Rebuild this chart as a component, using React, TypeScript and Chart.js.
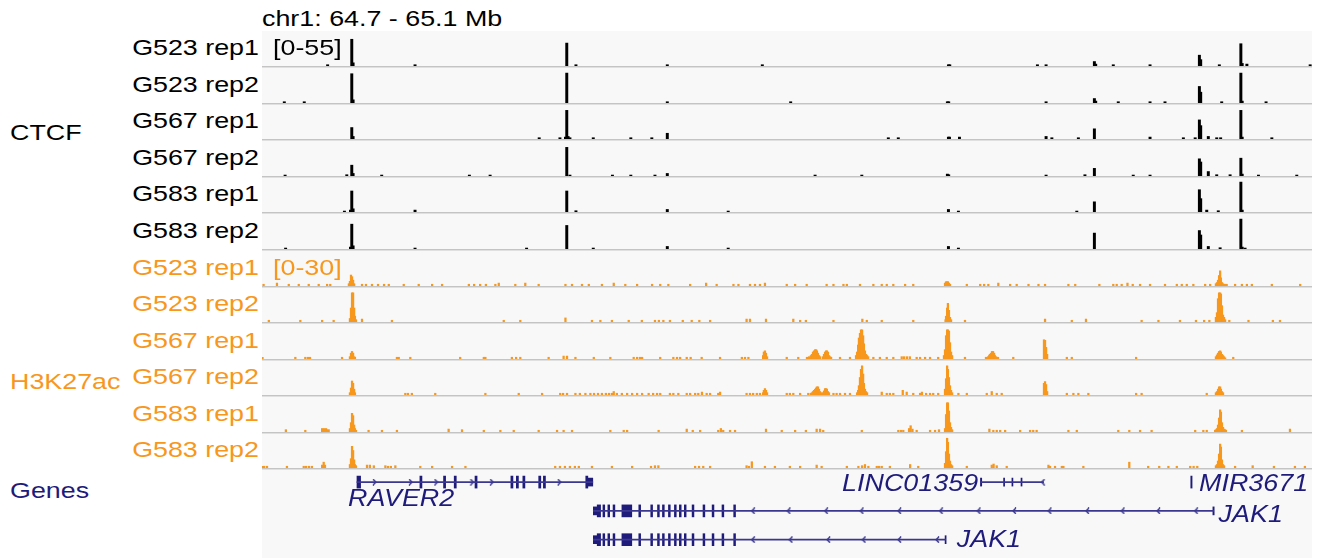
import React, { useEffect, useRef } from 'react';
import { Chart, registerables } from 'chart.js';

Chart.register(...registerables);

// Genomic window: chr1 64,700 kb - 65,100 kb. Positions below are kb offsets from 64,700 kb.
const VIEW_START = 0;
const VIEW_END = 400;
const CTCF_RANGE = 55;
const H3K27AC_RANGE = 30;

const sampleNames = ['G523 rep1', 'G523 rep2', 'G567 rep1', 'G567 rep2', 'G583 rep1', 'G583 rep2'];

// ---------- CTCF signal: [position kb, value] ----------
const ctcf_G523_rep1: [number, number][] = [
  [25.0, 2], [34.2, 42], [34.7, 5], [58.3, 2], [116.1, 36], [119.6, 2], [154.4, 2], [190.6, 2],
  [261.5, 2], [262.0, 2], [295.4, 2], [298.7, 2], [317.1, 7], [317.6, 3], [324.3, 2], [338.3, 2],
  [357.1, 17], [357.6, 10], [364.7, 2], [372.9, 35], [373.4, 4], [375.2, 3], [399.3, 2],
];
const ctcf_G523_rep2: [number, number][] = [
  [8.5, 2], [16.1, 2], [34.2, 46], [34.7, 5], [116.1, 47], [154.4, 2], [201.4, 2], [261.1, 2],
  [261.6, 2], [298.7, 2], [317.1, 7], [317.6, 3], [326.2, 2], [338.3, 2], [344.0, 2], [357.1, 26],
  [357.6, 17], [365.6, 2], [372.9, 47], [373.4, 3], [382.5, 2],
];
const ctcf_G567_rep1: [number, number][] = [
  [34.2, 18], [34.7, 4], [105.6, 2], [113.5, 2], [115.6, 3], [116.1, 45], [116.6, 4], [117.3, 2],
  [126.2, 2], [140.5, 2], [148.5, 2], [154.4, 9], [238.6, 2], [242.4, 2], [261.5, 3], [261.9, 3],
  [265.7, 3], [298.7, 4], [300.9, 2], [311.0, 2], [317.1, 16], [338.3, 3], [351.0, 2], [355.5, 2],
  [357.1, 30], [357.6, 21], [360.5, 4], [363.7, 2], [365.2, 2], [372.9, 45], [373.4, 3], [384.7, 2],
];
const ctcf_G567_rep2: [number, number][] = [
  [8.8, 1.5], [32.3, 2], [34.2, 17], [34.7, 4], [45.6, 1.5], [79.0, 1.5], [86.9, 1.5], [116.1, 45],
  [117.3, 1.5], [133.5, 1.5], [140.5, 1.5], [149.7, 1.5], [154.4, 4], [210.7, 1.5], [228.5, 1.5],
  [261.1, 3], [261.6, 2], [298.7, 1.5], [313.5, 2], [317.1, 12], [331.9, 1.5], [338.3, 1.5],
  [357.1, 27], [357.6, 22], [360.5, 7], [363.7, 2], [368.8, 2], [372.9, 28], [373.4, 3], [379.6, 1.5],
  [394.2, 1.5],
];
const ctcf_G583_rep1: [number, number][] = [
  [31.4, 1.5], [33.7, 3], [34.2, 33], [34.7, 5], [58.3, 3], [116.1, 33], [119.6, 2], [154.4, 4],
  [177.6, 1.5], [261.5, 4], [265.3, 1.5], [310.4, 1.5], [317.1, 16], [357.1, 35], [357.6, 21],
  [359.9, 3], [364.3, 2], [372.9, 47], [373.4, 3],
];
const ctcf_G583_rep2: [number, number][] = [
  [9.0, 1.5], [33.7, 3], [34.2, 39], [34.7, 5], [58.3, 1.5], [100.8, 1.5], [116.1, 37], [126.2, 1.5],
  [154.4, 4], [177.6, 1.5], [261.5, 4], [265.3, 1.5], [317.1, 25], [357.1, 29], [357.6, 22],
  [360.5, 4], [365.0, 2], [372.9, 47], [373.4, 3], [374.5, 1.5],
];

// ---------- H3K27ac signal: [position kb, value] ----------
const h3_G523_rep1_peaks: [number, number][] = [
  [33.1, 2], [33.5, 4], [33.9, 9.4], [34.3, 8], [34.7, 5], [35.1, 2],
  [260.2, 2.5], [260.6, 3.7], [261.0, 3.7], [261.3, 3.7], [261.7, 2.5], [262.1, 1.5],
  [363.4, 2], [363.8, 3], [364.2, 5], [364.6, 9], [365.0, 13], [365.3, 7], [365.7, 3], [366.1, 2], [366.9, 1.5],
];
const h3_G523_rep1_bg: [number, number][] = [
  [0.6, 1.5], [5.7, 2.5], [10.2, 1.5], [14.0, 1.5], [17.8, 1.5], [21.6, 1.5], [24.8, 1.5], [26.0, 1.5],
  [38.1, 1.5], [39.6, 1.5], [41.9, 1.5], [44.2, 1.5], [46.5, 1.5], [48.3, 1.5], [54.0, 1.5], [59.7, 1.5],
  [64.8, 1.5], [68.6, 1.5], [78.8, 1.5], [80.8, 1.5], [83.1, 1.5], [85.3, 1.5], [88.9, 1.5], [90.2, 2.5],
  [96.5, 1.5], [100.3, 2.5], [105.4, 1.5], [115.6, 1.5], [118.1, 1.5], [121.9, 1.5], [124.5, 1.5],
  [129.5, 1.5], [134.0, 2.5], [138.4, 1.5], [142.9, 1.5], [148.6, 1.5], [151.7, 1.5], [154.8, 1.5],
  [163.1, 1.5], [169.2, 2.5], [173.2, 1.5], [179.6, 1.5], [181.5, 1.5], [185.9, 1.5], [187.8, 1.5],
  [189.7, 1.5], [191.6, 2.5], [199.9, 1.5], [203.1, 1.5], [207.5, 1.5], [215.1, 1.5], [217.7, 1.5],
  [221.5, 1.5], [222.8, 1.5], [227.8, 1.5], [232.9, 1.5], [236.1, 1.5], [238.0, 1.5], [240.5, 1.5],
  [245.0, 1.5], [248.1, 1.5], [268.5, 1.5], [273.6, 1.5], [275.1, 1.5], [276.7, 1.5], [280.5, 2.5],
  [285.0, 1.5], [287.5, 1.5], [292.0, 1.5], [295.8, 1.5], [298.3, 1.5], [307.2, 1.5], [309.8, 1.5],
  [319.0, 1.5], [324.3, 1.5], [325.6, 1.5], [327.5, 1.5], [329.7, 2.5], [331.7, 1.5], [334.5, 1.5],
  [338.3, 1.5], [344.0, 1.5], [348.5, 1.5], [350.4, 1.5], [352.3, 1.5], [354.8, 1.5], [359.3, 1.5],
  [361.2, 1.5], [367.5, 1.5], [370.7, 1.5], [373.3, 1.5], [375.2, 1.5], [377.1, 1.5], [384.7, 1.5],
  [395.5, 1.5],
];

const h3_G523_rep2_peaks: [number, number][] = [
  [33.5, 3], [33.9, 12], [34.3, 25], [34.7, 25], [35.1, 12], [35.4, 5], [35.8, 2], [38.1, 2.5],
  [260.4, 2], [260.6, 5], [261.0, 12], [261.3, 16], [261.7, 10], [262.1, 4], [262.5, 2],
  [363.4, 4], [363.8, 8], [364.2, 20], [364.6, 25], [365.0, 25], [365.3, 24], [365.7, 14], [366.1, 6],
  [366.5, 4], [366.9, 2],
];
const h3_G523_rep2_bg: [number, number][] = [
  [2.6, 1.5], [14.6, 1.5], [22.9, 1.5], [27.3, 1.5], [49.5, 1.5], [92.1, 1.5], [98.4, 1.5], [115.6, 3.5],
  [125.7, 1.5], [128.9, 1.5], [133.3, 1.5], [139.7, 1.5], [144.7, 1.5], [149.7, 1.5], [151.2, 1.5],
  [152.9, 1.5], [155.4, 1.5], [160.3, 1.5], [163.7, 1.5], [166.6, 1.5], [170.7, 1.5], [184.6, 2.5],
  [185.9, 2.5], [192.0, 2.5], [202.4, 2.5], [205.0, 1.5], [207.2, 1.5], [217.7, 1.5], [228.7, 2.5],
  [230.4, 1.5], [236.1, 1.5], [248.1, 1.5], [267.8, 1.5], [298.3, 2.5], [308.5, 1.5], [313.9, 2.5],
  [335.1, 1.5], [341.5, 1.5], [349.7, 1.5], [355.8, 1.5], [358.9, 1.5], [360.9, 1.5], [368.5, 1.5],
  [375.8, 1.5], [385.1, 1.5], [387.8, 1.5],
];

const h3_G567_rep1_peaks: [number, number][] = [
  [33.5, 2], [33.9, 5], [34.3, 6.5], [34.7, 5], [35.1, 2], [35.4, 1.5],
  [190.9, 3], [191.2, 6], [191.6, 7], [192.0, 5], [192.4, 2],
  [207.6, 1.5], [208.4, 2], [209.1, 3], [209.5, 4], [209.9, 6], [210.3, 7], [210.7, 8], [211.1, 8],
  [211.4, 7], [211.8, 5], [212.2, 3], [212.6, 2],
  [213.7, 2], [214.1, 4], [214.5, 6], [214.9, 7], [215.2, 7], [215.6, 6], [216.0, 3], [216.4, 2], [216.8, 1.5],
  [226.3, 3], [226.7, 6], [227.1, 12], [227.4, 18], [227.8, 22], [228.2, 25], [228.6, 25], [229.0, 20],
  [229.3, 13], [229.7, 7], [230.1, 4], [230.5, 3], [230.9, 2],
  [259.8, 3], [260.2, 8], [260.6, 20], [261.0, 25], [261.3, 25], [261.7, 24], [262.1, 14], [262.5, 6], [262.9, 3],
  [275.8, 1.5], [276.6, 2], [277.0, 3], [277.3, 4], [277.7, 5], [278.1, 6.5], [278.5, 6.5], [278.9, 5],
  [279.2, 3], [279.6, 2], [280.4, 1.5],
  [297.9, 16.5], [298.3, 16], [298.7, 10], [299.1, 4],
  [363.4, 2], [363.8, 3.5], [364.2, 5], [364.6, 6.5], [365.0, 7], [365.3, 6], [365.7, 4], [366.1, 3],
  [366.5, 2], [366.9, 1],
];
const h3_G567_rep1_bg: [number, number][] = [
  [0.2, 1.5], [12.7, 1.5], [16.5, 1.5], [17.5, 1.5], [18.3, 1.5], [30.5, 1.5], [51.4, 1.5], [52.1, 1.5],
  [56.5, 1.5], [75.5, 1.5], [84.5, 1.5], [85.1, 1.5], [95.2, 1.5], [96.8, 1.5], [98.4, 1.5], [109.2, 1.5],
  [114.9, 2.5], [116.2, 2.5], [119.4, 1.5], [126.4, 1.5], [132.7, 1.5], [141.6, 1.5], [142.9, 1.5],
  [144.0, 1.5], [144.8, 1.5], [151.7, 1.5], [156.7, 1.5], [158.1, 1.5], [159.3, 1.5], [161.8, 1.5],
  [163.3, 1.5], [167.5, 1.5], [174.5, 1.5], [182.8, 1.5], [184.0, 1.5], [185.3, 1.5], [199.9, 1.5],
  [204.3, 1.5], [220.2, 1.5], [224.0, 1.5], [232.9, 1.5], [235.4, 1.5], [238.0, 1.5], [240.5, 1.5],
  [243.7, 2], [244.6, 2], [245.7, 2], [246.8, 2], [249.4, 1.5], [250.7, 1.5], [252.6, 1.5], [254.5, 1.5],
  [257.6, 1.5], [267.8, 1.5], [286.2, 1.5], [306.6, 1.5], [308.5, 1.5], [333.0, 1.5], [370.0, 1.5],
];

const h3_G567_rep2_peaks: [number, number][] = [
  [33.5, 2], [33.9, 6], [34.3, 12], [34.7, 10], [35.1, 5], [35.4, 2],
  [190.9, 2], [191.2, 4], [191.6, 5.5], [192.0, 4], [192.4, 2],
  [209.1, 1.5], [209.5, 2], [209.9, 3], [210.3, 4], [210.7, 5], [211.1, 6], [211.4, 7], [211.8, 7],
  [212.2, 5], [212.6, 3], [213.0, 2],
  [213.7, 2], [214.1, 3.5], [214.5, 5.5], [214.9, 5.5], [215.2, 5], [215.6, 3], [216.0, 2],
  [226.7, 2], [227.1, 4], [227.4, 8], [227.8, 15], [228.2, 22], [228.6, 25], [229.0, 18], [229.3, 10],
  [229.7, 5], [230.1, 3], [230.5, 2],
  [260.2, 5], [260.6, 14], [261.0, 25], [261.3, 22], [261.7, 15], [262.1, 8], [262.5, 4], [262.9, 2],
  [297.9, 10], [298.3, 11.5], [298.7, 9], [299.1, 3],
  [363.4, 2], [363.8, 3], [364.2, 5], [364.6, 7], [365.0, 7], [365.3, 5], [365.7, 3], [366.1, 2],
];
const h3_G567_rep2_bg: [number, number][] = [
  [54.6, 1.5], [55.6, 1.5], [57.1, 1.5], [66.0, 1.5], [85.1, 1.5], [97.8, 1.5], [106.7, 1.5], [113.6, 1.5],
  [114.7, 1.5], [116.2, 1.5], [119.4, 1.5], [121.1, 1.5], [123.2, 1.5], [125.1, 1.5], [126.5, 1.5],
  [128.0, 1.5], [129.5, 1.5], [131.0, 1.5], [132.2, 1.5], [133.3, 1.5], [134.0, 3], [135.2, 1.5],
  [137.1, 1.5], [139.1, 1.5], [141.0, 1.5], [142.9, 1.5], [144.8, 1.5], [147.3, 1.5], [149.0, 1.5],
  [150.5, 1.5], [151.7, 1.5], [155.4, 1.5], [156.7, 1.5], [158.6, 1.5], [161.8, 1.5], [163.1, 1.5],
  [165.0, 1.5], [166.2, 1.5], [167.6, 2.5], [169.4, 1.5], [170.7, 1.5], [173.8, 1.5], [174.5, 2.5],
  [184.6, 1.5], [185.9, 1.5], [187.1, 1.5], [188.5, 1.5], [189.7, 1.5], [199.9, 1.5], [201.1, 1.5],
  [202.4, 1.5], [205.0, 1.5], [208.1, 1.5], [217.7, 1.5], [218.9, 1.5], [220.2, 1.5], [222.1, 1.5],
  [224.0, 1.5], [236.1, 2.5], [238.0, 1.5], [239.2, 1.5], [240.5, 1.5], [244.1, 4], [245.6, 2.5],
  [248.1, 1.5], [250.7, 1.5], [251.4, 2.5], [253.0, 1.5], [254.5, 1.5], [255.7, 1.5], [257.6, 1.5],
  [265.3, 1.5], [268.5, 1.5], [276.1, 1.5], [278.0, 3], [279.9, 1.5], [281.8, 1.5], [306.6, 1.5],
  [309.1, 1.5], [311.0, 1.5], [314.8, 1.5], [333.0, 1.5], [335.1, 1.5], [359.9, 1.5],
];

const h3_G583_rep1_peaks: [number, number][] = [
  [33.5, 3], [33.9, 8], [34.3, 16], [34.7, 14], [35.1, 6], [35.4, 3], [35.8, 1.5],
  [260.2, 3], [260.6, 15], [261.0, 25], [261.3, 25], [261.7, 18], [262.1, 8], [262.5, 4], [262.9, 2],
  [363.1, 1.5], [363.4, 2], [363.8, 3], [364.2, 6], [364.6, 12], [365.0, 19], [365.3, 17], [365.7, 8],
  [366.1, 4], [366.5, 2.5], [366.9, 2], [367.2, 1.5],
];
const h3_G583_rep1_bg: [number, number][] = [
  [9.1, 2], [16.5, 1.5], [22.9, 3], [23.6, 3], [24.4, 3], [24.8, 2], [25.4, 2], [40.6, 1.5], [45.7, 1.5],
  [51.4, 1.5], [71.1, 2.5], [76.2, 2], [84.5, 1.5], [90.8, 1.5], [95.9, 1.5], [105.4, 1.5], [112.4, 1.5],
  [114.9, 1.5], [118.1, 1.5], [132.7, 1.5], [137.8, 1.5], [139.1, 1.5], [151.1, 1.5], [161.8, 2.5],
  [164.1, 1.5], [166.9, 1.5], [173.8, 1.5], [174.8, 3], [175.7, 1.5], [178.3, 1.5], [180.2, 1.5],
  [192.0, 2.5], [198.0, 1.5], [203.1, 1.5], [207.2, 1.5], [211.3, 2.5], [212.6, 2.5], [213.8, 1.5],
  [228.5, 1.5], [242.4, 1.5], [243.4, 1.5], [244.3, 1.5], [246.5, 3], [247.1, 5.4], [247.8, 2.5],
  [249.4, 1.5], [254.5, 1.5], [256.4, 1.5], [257.9, 2], [277.1, 2.5], [278.6, 1.5], [279.9, 1.5],
  [281.2, 1.5], [283.1, 1.5], [288.8, 1.5], [292.6, 1.5], [293.8, 1.5], [295.1, 1.5], [307.2, 1.5],
  [310.4, 1.5], [326.2, 1.5], [330.4, 1.5], [334.5, 1.5], [338.9, 1.5], [355.5, 1.5], [358.6, 1.5],
  [359.9, 1.5], [373.3, 1.5], [391.6, 2.5],
];

const h3_G583_rep2_peaks: [number, number][] = [
  [33.5, 3], [33.9, 8], [34.3, 18.6], [34.7, 15], [35.1, 7], [35.4, 3], [35.8, 2],
  [260.2, 4], [260.6, 14], [261.0, 25.5], [261.3, 22], [261.7, 12], [262.1, 6], [262.5, 3], [262.9, 2],
  [363.4, 2], [363.8, 3], [364.2, 6], [364.6, 12], [365.0, 20.5], [365.3, 18], [365.7, 7], [366.1, 3], [366.5, 2],
];
const h3_G583_rep2_bg: [number, number][] = [
  [0.2, 1.5], [0.8, 1.5], [1.9, 1.5], [9.5, 1.5], [15.9, 1.5], [16.8, 1.5], [17.9, 1.5], [19.0, 1.5],
  [22.9, 2.5], [23.5, 5], [24.0, 2.5], [40.0, 2.5], [41.1, 2.5], [42.6, 2], [47.0, 2], [48.0, 1.5],
  [49.1, 1.5], [50.8, 2], [60.3, 1.5], [64.8, 1.5], [72.4, 1.5], [77.5, 1.5], [111.7, 1.5], [113.5, 1.5],
  [115.4, 1.5], [117.3, 1.5], [119.2, 1.5], [120.7, 1.5], [125.7, 1.5], [133.3, 1.5], [141.0, 1.5],
  [148.2, 1.5], [149.7, 2], [151.0, 2], [165.0, 1.5], [166.5, 1.5], [168.1, 1.5], [170.7, 1.5],
  [184.6, 2], [185.5, 1.5], [186.6, 5.4], [191.6, 1.5], [195.4, 1.5], [201.1, 1.5], [205.0, 1.5],
  [211.3, 2.5], [213.2, 1.5], [222.8, 1.5], [227.2, 1.5], [228.6, 2], [229.7, 3], [231.0, 1.5],
  [234.2, 1.5], [235.1, 1.5], [236.1, 1.5], [239.2, 1.5], [246.9, 3], [250.0, 1.5], [268.5, 1.5],
  [278.0, 2.5], [278.7, 3.4], [279.9, 2], [283.7, 1.5], [299.6, 2.5], [300.2, 1.5], [302.1, 1.5],
  [304.7, 1.5], [305.3, 1.5], [312.9, 1.5], [330.4, 5], [337.6, 1.5], [341.8, 1.5], [345.3, 1.5],
  [348.5, 1.5], [353.6, 1.5], [354.9, 1.5], [356.3, 1.5], [370.7, 1.5], [377.4, 2], [385.5, 1.5],
  [393.5, 1.5], [397.3, 1.5],
];

// ---------- Genes: rows 1..3, intervals in kb offsets ----------
const geneLines: { x: [number, number]; y: number }[] = [
  { x: [34.6, 125.3], y: 1 },   // RAVER2
  { x: [274.6, 298.7], y: 1 },  // LINC01359
  { x: [125.5, 364.1], y: 2 },  // JAK1 (long)
  { x: [125.5, 261.0], y: 3 },  // JAK1 (short)
];
const raver2Exons: [number, number][] = [
  [34.6, 36.0], [58.8, 59.6], [67.9, 68.7], [72.0, 72.8], [80.0, 80.8], [93.8, 94.6], [95.9, 96.7],
  [98.4, 99.2], [104.5, 105.3], [106.3, 107.1], [122.6, 123.4],
];
const raver2Utr: [number, number][] = [[123.4, 125.3]];
const jak1Exons: [number, number][] = [
  [127.0, 128.3], [129.2, 129.9], [131.1, 131.8], [133.1, 133.8], [136.5, 140.3], [143.0, 143.7],
  [147.6, 148.3], [150.2, 150.9], [152.1, 152.8], [154.4, 155.1], [156.7, 157.4], [158.6, 159.3],
  [160.5, 161.2], [163.5, 164.2], [167.7, 168.4], [171.2, 171.9], [175.0, 175.7], [179.5, 180.2],
];
const jak1Utr: [number, number][] = [[125.5, 127.0]];
const jak1LongEnd: [number, number][] = [[363.8, 364.3]];
const jak1ShortEnd: [number, number][] = [[260.8, 261.2]];
const lincExons: [number, number][] = [[274.4, 274.9], [283.3, 283.7], [286.5, 286.9], [290.0, 290.4]];
const mir3671: [number, number][] = [[355.3, 355.8]];
const raver2Arrows = [41.3, 55.2, 65.0, 78.8, 86.4, 112.4];
const lincArrows = [298.5];
const jak1LongArrows = [187.0, 200.7, 215.1, 228.8, 243.3, 259.3, 273.8, 287.5, 301.1, 315.6, 329.2, 342.9, 357.4];
const jak1ShortArrows = [187.0, 201.5, 216.0, 229.6, 243.3, 257.9];

const geneLabels = [
  { text: 'RAVER2', pos: 31.2, row: 1.6, align: 'left' },
  { text: 'LINC01359', pos: 273.5, row: 1.07, align: 'right' },
  { text: 'MIR3671', pos: 358.5, row: 1.07, align: 'left' },
  { text: 'JAK1', pos: 366.0, row: 2.15, align: 'left' },
  { text: 'JAK1', pos: 265.3, row: 3.03, align: 'left' },
];

// ---------- styles ----------
const FONT = '"Liberation Sans", Arial, Helvetica, sans-serif';
const STRETCH = 1.22;
const GENE_STRETCH = 1.12;
const ORANGE = '#f7971c';
const NAVY = '#1e1b7b';
const BG = '#f8f8f8';
const LEFT = 262;
const WIDTH = 1050;

function TrackChart({ points, max, color, thickness }: { points: [number, number][]; max: number; color: string; thickness: number }) {
  const ref = useRef<HTMLCanvasElement>(null);
  useEffect(() => {
    const chart = new Chart(ref.current as HTMLCanvasElement, {
      type: 'bar',
      data: {
        datasets: [{
          data: points.map(([x, y]) => ({ x, y })) as any,
          backgroundColor: color,
          borderWidth: 0,
          barThickness: thickness,
          grouped: false,
        } as any],
      },
      options: {
        animation: false,
        responsive: false,
        maintainAspectRatio: false,
        events: [],
        layout: { padding: 0 },
        plugins: { legend: { display: false }, tooltip: { enabled: false } },
        scales: {
          x: { type: 'linear', min: VIEW_START, max: VIEW_END, offset: false, display: false },
          y: { type: 'linear', min: 0, max, display: false },
        },
      } as any,
    });
    return () => chart.destroy();
  }, []);
  return <canvas ref={ref} width={WIDTH} height={35} style={{ display: 'block', width: WIDTH, height: 35 }} />;
}

function chevron(dir: number): HTMLCanvasElement {
  const c = document.createElement('canvas');
  c.width = 5;
  c.height = 7;
  const g = c.getContext('2d') as CanvasRenderingContext2D;
  g.strokeStyle = NAVY;
  g.lineWidth = 1.2;
  g.beginPath();
  if (dir > 0) { g.moveTo(1, 0.5); g.lineTo(4, 3.5); g.lineTo(1, 6.5); }
  else { g.moveTo(4, 0.5); g.lineTo(1, 3.5); g.lineTo(4, 6.5); }
  g.stroke();
  return c;
}

function GeneChart() {
  const ref = useRef<HTMLCanvasElement>(null);
  useEffect(() => {
    const right = chevron(1);
    const left = chevron(-1);
    const rows = (list: [number, number][], row: number) => list.map((x) => ({ x, y: row }));
    const barSet = (data: any[], thickness: number, color: string) => ({
      type: 'bar', indexAxis: 'y', data, barThickness: thickness, backgroundColor: color,
      borderWidth: 0, grouped: false,
    });
    const arrowSet = (xs: number[], row: number, img: HTMLCanvasElement) => ({
      type: 'scatter', data: xs.map((x) => ({ x, y: row })), pointStyle: img, pointRadius: 3,
    });
    const labelPlugin = {
      id: 'geneLabels',
      afterDatasetsDraw(chart: any) {
        const { ctx, scales } = chart;
        ctx.save();
        ctx.font = `italic 24px ${FONT}`;
        ctx.fillStyle = NAVY;
        ctx.textBaseline = 'middle';
        for (const l of geneLabels) {
          const px = scales.x.getPixelForValue(l.pos);
          const py = scales.y.getPixelForValue(l.row);
          ctx.save();
          ctx.translate(px, py);
          ctx.scale(GENE_STRETCH, 1);
          ctx.textAlign = l.align;
          ctx.fillText(l.text, 0, 0);
          ctx.restore();
        }
        ctx.restore();
      },
    };
    const chart = new Chart(ref.current as HTMLCanvasElement, {
      type: 'bar',
      data: {
        datasets: [
          barSet(geneLines, 1, '#3b3791'),
          barSet([...rows(raver2Exons, 1), ...rows(mir3671, 1), ...rows(jak1Exons, 2), ...rows(jak1Exons, 3)], 12, NAVY),
          barSet([...rows(raver2Utr, 1), ...rows(lincExons, 1), ...rows(jak1Utr, 2), ...rows(jak1Utr, 3), ...rows(jak1LongEnd, 2), ...rows(jak1ShortEnd, 3)], 8, NAVY),
          arrowSet(raver2Arrows, 1, right),
          arrowSet(lincArrows, 1, left),
          arrowSet(jak1LongArrows, 2, left),
          arrowSet(jak1ShortArrows, 3, left),
        ] as any,
      },
      options: {
        animation: false,
        responsive: false,
        maintainAspectRatio: false,
        events: [],
        layout: { padding: 0 },
        plugins: { legend: { display: false }, tooltip: { enabled: false } },
        scales: {
          x: { type: 'linear', min: VIEW_START, max: VIEW_END, offset: false, display: false },
          y: { type: 'linear', min: 0.754, max: 3.462, reverse: true, offset: false, display: false },
        },
      } as any,
      plugins: [labelPlugin as any],
    });
    return () => chart.destroy();
  }, []);
  return <canvas ref={ref} width={WIDTH} height={88} style={{ display: 'block', width: WIDTH, height: 88 }} />;
}

const textStyle = (extra: any) => ({
  position: 'absolute' as const,
  fontFamily: FONT,
  fontSize: 22,
  whiteSpace: 'nowrap' as const,
  ...extra,
});

export default function App() {
  const ctcfTracks = [ctcf_G523_rep1, ctcf_G523_rep2, ctcf_G567_rep1, ctcf_G567_rep2, ctcf_G583_rep1, ctcf_G583_rep2];
  const h3Tracks = [
    [...h3_G523_rep1_bg, ...h3_G523_rep1_peaks],
    [...h3_G523_rep2_bg, ...h3_G523_rep2_peaks],
    [...h3_G567_rep1_bg, ...h3_G567_rep1_peaks],
    [...h3_G567_rep2_bg, ...h3_G567_rep2_peaks],
    [...h3_G583_rep1_bg, ...h3_G583_rep1_peaks],
    [...h3_G583_rep2_bg, ...h3_G583_rep2_peaks],
  ];
  const tracks = [
    ...ctcfTracks.map((p, i) => ({ points: p, name: sampleNames[i], color: '#000000', max: CTCF_RANGE, thick: 2.3 })),
    ...h3Tracks.map((p, i) => ({ points: p as [number, number][], name: sampleNames[i], color: ORANGE, max: H3K27AC_RANGE, thick: 1.6 })),
  ];
  const lineTops = tracks.map((_, i) => Math.round(66.25 + 36.55 * i));

  return (
    <div style={{ position: 'absolute', left: 0, top: 0, width: 1323, height: 558, background: '#ffffff', overflow: 'hidden' }}>
      <div style={textStyle({ left: LEFT, top: 8, lineHeight: '22px', color: '#000', transform: `scaleX(${STRETCH})`, transformOrigin: 'left center' })}>
        chr1: 64.7 - 65.1 Mb
      </div>
      <div style={{ position: 'absolute', left: LEFT, top: 31, width: WIDTH, height: 438, background: BG }} />
      <div style={{ position: 'absolute', left: LEFT, top: 470, width: WIDTH, height: 88, background: BG }} />
      {tracks.map((t, i) => (
        <React.Fragment key={i}>
          <div style={{ position: 'absolute', left: LEFT, top: lineTops[i], width: WIDTH, height: 2, background: 'linear-gradient(#c4c4c4 0 50%, #e0e0e0 50% 100%)' }} />
          <div style={{ position: 'absolute', left: LEFT, top: lineTops[i] - 35, width: WIDTH, height: 35 }}>
            <TrackChart points={t.points} max={t.max} color={t.color} thickness={t.thick} />
          </div>
          <div style={textStyle({ right: 1323 - 259, top: lineTops[i] - 36, height: 36, lineHeight: '36px', color: t.color === ORANGE ? ORANGE : '#000', transform: `scaleX(${STRETCH})`, transformOrigin: 'right center' })}>
            {t.name}
          </div>
        </React.Fragment>
      ))}
      <div style={textStyle({ left: 273, top: lineTops[0] - 36, height: 36, lineHeight: '36px', color: '#000', transform: `scaleX(${STRETCH})`, transformOrigin: 'left center' })}>[0-55]</div>
      <div style={textStyle({ left: 273, top: lineTops[6] - 36, height: 36, lineHeight: '36px', color: ORANGE, transform: `scaleX(${STRETCH})`, transformOrigin: 'left center' })}>[0-30]</div>
      <div style={textStyle({ left: 10, top: 115, height: 36, lineHeight: '36px', color: '#000', transform: `scaleX(${STRETCH})`, transformOrigin: 'left center' })}>CTCF</div>
      <div style={textStyle({ left: 10, top: 364, height: 36, lineHeight: '36px', color: ORANGE, transform: `scaleX(${STRETCH})`, transformOrigin: 'left center' })}>H3K27ac</div>
      <div style={textStyle({ left: 10, top: 473, height: 36, lineHeight: '36px', color: NAVY, transform: `scaleX(${STRETCH})`, transformOrigin: 'left center' })}>Genes</div>
      <div style={{ position: 'absolute', left: LEFT, top: 470, width: WIDTH, height: 88 }}>
        <GeneChart />
      </div>
    </div>
  );
}
